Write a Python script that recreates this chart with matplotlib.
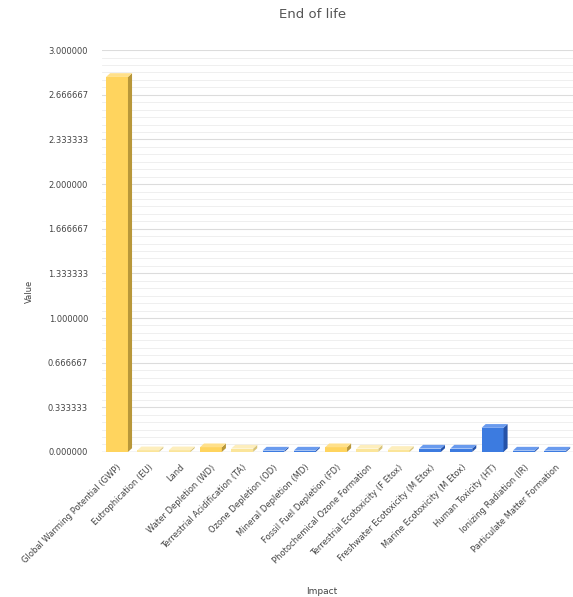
import numpy as np
import matplotlib.pyplot as plt
from matplotlib.patches import Polygon
from matplotlib.ticker import MultipleLocator, FormatStrFormatter

# data
impacts = ['Global Warming Potential (GWP)', 'Eutrophication (EU)', 'Land',
           'Water Depletion (WD)', 'Terrestrial Acidification (TA)',
           'Ozone Depletion (OD)', 'Mineral Depletion (MD)', 'Fossil Fuel Depletion (FD)',
           'Photochemical Ozone Formation', 'Terrestrial Ecotoxicity (F Etox)',
           'Freshwater Ecotoxicity (M Etox)', 'Marine Ecotoxicity (M Etox)',
           'Human Toxicity (HT)', 'Ionizing Radiation (IR)', 'Particulate Matter Formation']
values = [2.80, 0.012, 0.012, 0.035, 0.025, 0.010, 0.010, 0.035,
          0.025, 0.015, 0.025, 0.025, 0.18, 0.010, 0.010]
groups = ['y', 'p', 'p', 'y', 'p', 'b', 'b', 'y', 'p', 'p', 'b', 'b', 'b', 'b', 'b']

face = {'y': '#ffd45e', 'p': '#fbe59a', 'b': '#3c7be0'}
side = {'y': '#b8973a', 'p': '#d8c47a', 'b': '#2552a8'}
top = {'y': '#ffe08a', 'p': '#fdeebd', 'b': '#6a9bee'}

fig = plt.figure(figsize=(5.73, 5.97), dpi=100)
ax = fig.add_axes([0.178, 0.243, 0.822, 0.673])

x = np.arange(len(impacts))
w = 0.70
dx, dy = 0.13, 0.028

# floor line
ax.plot([-0.5, len(impacts)], [0, 0], color='#666666', lw=0.8, zorder=1)

for i, v in enumerate(values):
    g = groups[i]
    x0 = x[i] - w / 2
    ax.bar(x[i], v, width=w, color=face[g], zorder=3, linewidth=0)
    ax.add_patch(Polygon([(x0 + w, 0), (x0 + w + dx, dy), (x0 + w + dx, v + dy), (x0 + w, v)],
                         closed=True, color=side[g], lw=0, zorder=3))
    ax.add_patch(Polygon([(x0, v), (x0 + dx, v + dy), (x0 + w + dx, v + dy), (x0 + w, v)],
                         closed=True, color=top[g], lw=0, zorder=3))

ax.set_xlim(-0.48, len(impacts) - 1 + 0.57)
ax.set_ylim(0, 3.0)
ax.yaxis.set_major_locator(MultipleLocator(1 / 3))
ax.yaxis.set_minor_locator(MultipleLocator(1 / 18))
ax.yaxis.set_major_formatter(FormatStrFormatter('%.6f'))
ax.grid(True, which='major', axis='y', color='#dcdcdc', lw=0.8, zorder=0)
ax.grid(True, which='minor', axis='y', color='#ececec', lw=0.6, zorder=0)
ax.set_axisbelow(True)

for s in ax.spines.values():
    s.set_visible(False)
ax.tick_params(axis='both', which='both', length=0)
ax.tick_params(axis='y', labelsize=6, labelcolor='#444444', pad=10)

ax.set_xticks(x)
ax.set_xticklabels(impacts, rotation=45, ha='right', rotation_mode='anchor',
                   fontsize=6, color='#444444')
ax.tick_params(axis='x', pad=8)

ax.set_ylabel('Value', fontsize=6, color='#444444')
ax.yaxis.set_label_coords(-0.145, 0.4)
ax.set_xlabel('Impact', fontsize=6.5, color='#444444')
ax.xaxis.set_label_coords(0.466, -0.336)
fig.text(0.546, 0.975, 'End of life', ha='center', va='center', fontsize=9.5, color='#555555')

fig.savefig('out.png', dpi=100)
